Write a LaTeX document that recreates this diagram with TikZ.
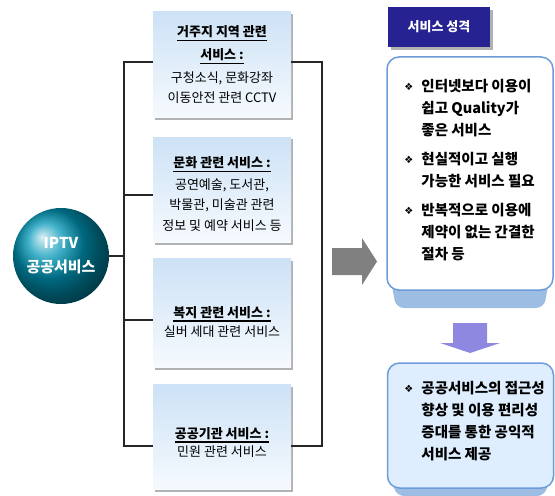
\documentclass[tikz,border=0pt]{standalone}
\usepackage{fontspec}
\setmainfont{Noto Sans CJK KR}
\newfontfamily\dingfont{DejaVu Sans}
\usetikzlibrary{shadows}
\definecolor{navy}{RGB}{38,34,145}
\definecolor{boxtop}{RGB}{205,226,246}
\definecolor{boxbot}{RGB}{246,250,254}
\definecolor{rim}{RGB}{108,156,218}
\definecolor{band}{RGB}{157,189,227}
\definecolor{paleblue}{RGB}{222,238,254}
\definecolor{lilac}{RGB}{143,136,224}
\definecolor{ballteal}{RGB}{0,150,182}
\newcommand\bul{\raisebox{1bp}{\dingfont\fontsize{10bp}{10bp}\selectfont ❖}}
\begin{document}
\begin{tikzpicture}[x=1bp,y=-1bp,
    svcbox/.style={minimum width=138bp,minimum height=105bp,inner sep=0pt,
      top color=boxtop,bottom color=boxbot,
      drop shadow={shadow xshift=2bp,shadow yshift=-2bp,fill=black!30,opacity=1}},
    ttl/.style={anchor=base,inner sep=0pt,font=\fontsize{13bp}{20bp}\selectfont\bfseries},
    txt/.style={anchor=base,inner sep=0pt,font=\fontsize{13bp}{20bp}\selectfont},
    uline/.style={fill=black},
    infobox/.style={draw=rim,line width=1.5bp,rounded corners=12bp,
      minimum width=166bp,inner sep=0pt},
    infotext/.style={anchor=west,inner sep=0pt,
      font=\fontsize{14.5bp}{22bp}\selectfont\bfseries},
    link/.style={line width=1.6bp,black!85}]
  \useasboundingbox (0,0) rectangle (555,496);
  % centre
  \node[circle,minimum size=96bp,shading=ball,ball color=ballteal,text=white,
    align=center,font=\fontsize{15bp}{24bp}\selectfont\bfseries] (iptv) at (61,256)
    {IPTV\\공공서비스};
  % service groups
  \node[svcbox,minimum height=106bp] (res) at (222,65) {};
  \node[svcbox] (cult) at (222,190) {};
  \node[svcbox,minimum height=109bp] (welf) at (222,313) {};
  \node[svcbox] (publ) at (222,437) {};
  \node[ttl] (resT1) at (222,37) {거주지 지역 관련};
  \node[ttl] (resT2) at (222,60) {서비스 :};
  \node[txt] (resL1) at (222,83) {구청소식, 문화강좌};
  \node[txt] (resL2) at (222,103) {이동안전 관련 CCTV};
  \node[ttl] (cultT) at (222,168) {문화 관련 서비스 :};
  \node[txt] (cultL1) at (222,190) {공연예술, 도서관,};
  \node[txt] (cultL2) at (222,210) {박물관, 미술관 관련};
  \node[txt] (cultL3) at (222,230) {정보 및 예약 서비스 등};
  \node[ttl] (welfT) at (222,317) {복지 관련 서비스 :};
  \node[txt] (welfL1) at (222,336) {실버 세대 관련 서비스};
  \node[ttl] (publT) at (222,438) {공공기관 서비스 :};
  \node[txt] (publL1) at (222,456) {민원 관련 서비스};
  % underlines
  \fill[uline] ([yshift=-3bp]resT1.base west) rectangle ([yshift=-4.5bp]resT1.base east);
  \fill[uline] ([yshift=-3bp]resT2.base west) rectangle ([yshift=-4.5bp]resT2.base east);
  \fill[uline] ([yshift=-3bp]cultT.base west) rectangle ([yshift=-4.5bp]cultT.base east);
  \fill[uline] ([yshift=-3bp]welfT.base west) rectangle ([yshift=-4.5bp]welfT.base east);
  \fill[uline] ([yshift=-3bp]publT.base west) rectangle ([yshift=-4.5bp]publT.base east);
  \coordinate (l1) at (124,62);
  \coordinate (l2) at (124,195);
  \coordinate (l3) at (124,320);
  \coordinate (l4) at (124,446);
  \coordinate (lc) at (124,256);
  \coordinate (r1) at (322,62);
  \coordinate (r4) at (322,446);
  \begin{scope}[link]
    \draw (res.west |- l1) -- (l1) -- (l4) -- (publ.west |- l4);
    \draw (l2) -- (cult.west |- l2);
    \draw (l3) -- (welf.west |- l3);
    \draw (iptv) -- (lc);
    \draw (res.east |- r1) -- (r1) -- (r4) -- (publ.east |- r4);
  \end{scope}
  \fill[black!50] (332,248) -- (362,248) -- (362,238) -- (377,261.5)
    -- (362,285) -- (362,275) -- (332,275) -- cycle;
  % traits
  \node[fill=navy,minimum width=102bp,minimum height=40bp,text=white,
    font=\fontsize{13bp}{15bp}\selectfont\bfseries,
    drop shadow={shadow xshift=3bp,shadow yshift=-3bp,fill=black!30,opacity=1}]
    (head) at (439,27) {서비스 성격};
  \fill[band,rounded corners=8bp] (389,270) -- (551,270) -- (544,308)
    -- (396,308) -- cycle;
  \node[infobox,fill=white,minimum height=233bp] (traits) at (470,173.5) {};
  \node[infotext] (traitsText) at ([xshift=18bp,yshift=2bp]traits.west) {%
    \begin{tabular}{@{}l@{\hspace{8bp}}l@{}}
      \bul & 인터넷보다 이용이\\
           & 쉽고 Quality가\\
           & 좋은 서비스\\[7bp]
      \bul & 현실적이고 실행\\
           & 가능한 서비스 필요\\[7bp]
      \bul & 반복적으로 이용에\\
           & 제약이 없는 간결한\\
           & 절차 등
    \end{tabular}};
  \fill[lilac] (453,323) -- (487,323) -- (487,343) -- (500,343) -- (470,353)
    -- (440,343) -- (453,343) -- cycle;
  % result
  \fill[band,rounded corners=8bp] (390,470) -- (551,470) -- (545,496)
    -- (396,496) -- cycle;
  \node[infobox,fill=paleblue,minimum height=125bp] (result) at (470.5,425.5) {};
  \node[infotext] (resultText) at ([xshift=17.5bp,yshift=3bp]result.west) {%
    \begin{tabular}{@{}l@{\hspace{8bp}}l@{}}
      \bul & 공공서비스의 접근성\\
           & 향상 및 이용 편리성\\
           & 증대를 통한 공익적\\
           & 서비스 제공
    \end{tabular}};
\end{tikzpicture}
\end{document}
